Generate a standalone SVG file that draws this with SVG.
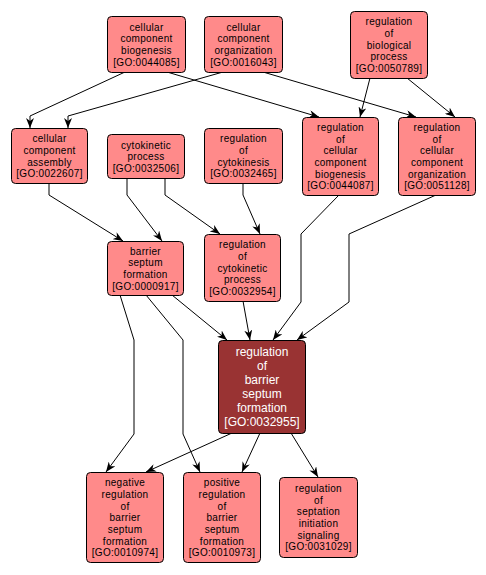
<svg xmlns="http://www.w3.org/2000/svg" width="486" height="575" viewBox="0 0 486 575">
<defs>
<marker id="ah" markerUnits="userSpaceOnUse" markerWidth="10" markerHeight="8" refX="10" refY="4" orient="auto">
<path d="M0,0 L10,4 L0,8 L3,4 z" fill="#000"/>
</marker>
<style>
.n rect{fill:#ff8a8a;stroke:#000;stroke-width:1}
.n text{font-family:"Liberation Sans",Arial,sans-serif;font-size:10px;letter-spacing:0.3px;text-anchor:middle;fill:#000}
.d rect{fill:#993333;stroke:#000;stroke-width:1}
.d text{font-family:"Liberation Sans",Arial,sans-serif;font-size:12px;text-anchor:middle;fill:#fff}
.e polyline{fill:none;stroke:#000;stroke-width:1;marker-end:url(#ah)}
</style>
</defs>
<rect width="486" height="575" fill="#fff"/>
<g class="e" id="edges">
<polyline points="125,72 30,116 30,128"/>
<polyline points="223,72 68,116 68,128"/>
<polyline points="167,72 319,117"/>
<polyline points="263,72 416,117"/>
<polyline points="370,78 360,117"/>
<polyline points="407,78 455,117"/>
<polyline points="49,183 49,195 123,241"/>
<polyline points="127,178 127,195 162,241"/>
<polyline points="165,178 165,195 220,234"/>
<polyline points="243,183 243,195 260,234"/>
<polyline points="172,295 227,340"/>
<polyline points="243,301 250,340"/>
<polyline points="339,195 301,234 301,302 273,340"/>
<polyline points="436,195 349,234 349,302 297,340"/>
<polyline points="120,295 134,340 134,434 106,472"/>
<polyline points="146,295 183,340 183,434 200,472"/>
<polyline points="232,433 146,472"/>
<polyline points="260,433 242,472"/>
<polyline points="291,433 318,477"/>
</g>
<g class="n" id="GO0044085">
<rect x="107.5" y="16.5" width="78" height="56" rx="4"/>
<text x="146.5" y="30.65">cellular</text><text x="146.5" y="42.35">component</text><text x="146.5" y="54.05">biogenesis</text><text x="146.5" y="65.75">[GO:0044085]</text>
</g>
<g class="n" id="GO0016043">
<rect x="204.5" y="16.5" width="78" height="56" rx="4"/>
<text x="243.5" y="30.65">cellular</text><text x="243.5" y="42.35">component</text><text x="243.5" y="54.05">organization</text><text x="243.5" y="65.75">[GO:0016043]</text>
</g>
<g class="n" id="GO0050789">
<rect x="350.5" y="11.5" width="77" height="67" rx="4"/>
<text x="389" y="25.3">regulation</text><text x="389" y="37">of</text><text x="389" y="48.7">biological</text><text x="389" y="60.4">process</text><text x="389" y="72.1">[GO:0050789]</text>
</g>
<g class="n" id="GO0022607">
<rect x="11.5" y="128.5" width="76" height="55" rx="4"/>
<text x="49.5" y="142.15">cellular</text><text x="49.5" y="153.85">component</text><text x="49.5" y="165.55">assembly</text><text x="49.5" y="177.25">[GO:0022607]</text>
</g>
<g class="n" id="GO0032506">
<rect x="107.5" y="134.5" width="77" height="44" rx="4"/>
<text x="146" y="148.5">cytokinetic</text><text x="146" y="160.2">process</text><text x="146" y="171.9">[GO:0032506]</text>
</g>
<g class="n" id="GO0032465">
<rect x="204.5" y="128.5" width="78" height="55" rx="4"/>
<text x="243.5" y="142.15">regulation</text><text x="243.5" y="153.85">of</text><text x="243.5" y="165.55">cytokinesis</text><text x="243.5" y="177.25">[GO:0032465]</text>
</g>
<g class="n" id="GO0044087">
<rect x="302.5" y="117.5" width="76" height="78" rx="4"/>
<text x="340.5" y="130.95">regulation</text><text x="340.5" y="142.65">of</text><text x="340.5" y="154.35">cellular</text><text x="340.5" y="166.05">component</text><text x="340.5" y="177.75">biogenesis</text><text x="340.5" y="189.45">[GO:0044087]</text>
</g>
<g class="n" id="GO0051128">
<rect x="398.5" y="117.5" width="77" height="78" rx="4"/>
<text x="437" y="130.95">regulation</text><text x="437" y="142.65">of</text><text x="437" y="154.35">cellular</text><text x="437" y="166.05">component</text><text x="437" y="177.75">organization</text><text x="437" y="189.45">[GO:0051128]</text>
</g>
<g class="n" id="GO0000917">
<rect x="107.5" y="241.5" width="76" height="54" rx="4"/>
<text x="145.5" y="254.65">barrier</text><text x="145.5" y="266.35">septum</text><text x="145.5" y="278.05">formation</text><text x="145.5" y="289.75">[GO:0000917]</text>
</g>
<g class="n" id="GO0032954">
<rect x="204.5" y="234.5" width="76" height="67" rx="4"/>
<text x="242.5" y="248.3">regulation</text><text x="242.5" y="260">of</text><text x="242.5" y="271.7">cytokinetic</text><text x="242.5" y="283.4">process</text><text x="242.5" y="295.1">[GO:0032954]</text>
</g>
<g class="d" id="GO0032955">
<rect x="218.5" y="340.5" width="87" height="93" rx="4"/>
<text x="262" y="355.75">regulation</text><text x="262" y="369.85">of</text><text x="262" y="383.95">barrier</text><text x="262" y="398.05">septum</text><text x="262" y="412.15">formation</text><text x="262" y="426.25">[GO:0032955]</text>
</g>
<g class="n" id="GO0010974">
<rect x="86.5" y="472.5" width="77" height="90" rx="4"/>
<text x="125" y="486.1">negative</text><text x="125" y="497.8">regulation</text><text x="125" y="509.5">of</text><text x="125" y="521.2">barrier</text><text x="125" y="532.9">septum</text><text x="125" y="544.6">formation</text><text x="125" y="556.3">[GO:0010974]</text>
</g>
<g class="n" id="GO0010973">
<rect x="183.5" y="472.5" width="77" height="90" rx="4"/>
<text x="222" y="486.1">positive</text><text x="222" y="497.8">regulation</text><text x="222" y="509.5">of</text><text x="222" y="521.2">barrier</text><text x="222" y="532.9">septum</text><text x="222" y="544.6">formation</text><text x="222" y="556.3">[GO:0010973]</text>
</g>
<g class="n" id="GO0031029">
<rect x="279.5" y="477.5" width="78" height="80" rx="4"/>
<text x="318.5" y="491.95">regulation</text><text x="318.5" y="503.65">of</text><text x="318.5" y="515.35">septation</text><text x="318.5" y="527.05">initiation</text><text x="318.5" y="538.75">signaling</text><text x="318.5" y="550.45">[GO:0031029]</text>
</g>
</svg>
